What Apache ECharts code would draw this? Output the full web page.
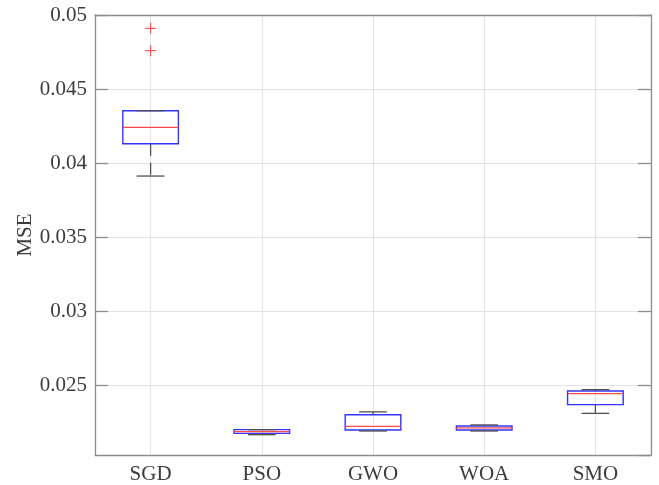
<!DOCTYPE html>
<html>
<head>
<meta charset="utf-8">
<script src="https://cdn.jsdelivr.net/npm/echarts@6/dist/echarts.min.js"></script>
<style>
  html, body { margin: 0; padding: 0; background: #fff; }
  #main { width: 659px; height: 485px; }
</style>
</head>
<body>
<div id="main"></div>
<script>
// box plot values
var categories = ['SGD', 'PSO', 'GWO', 'WOA', 'SMO'];
var lowWhisker  = [0.03913, 0.02167, 0.02192, 0.02192, 0.02311];
var q1          = [0.04131, 0.02176, 0.02199, 0.02199, 0.02370];
var median      = [0.04242, 0.02188, 0.02223, 0.02213, 0.02444];
var q3          = [0.04354, 0.02201, 0.02302, 0.02226, 0.02462];
var highWhisker = [0.04354, 0.02201, 0.02321, 0.02233, 0.02471];
var outliers = [['SGD', 0.04910], ['SGD', 0.04759]];

var yMin = 0.0203, yMax = 0.05;
var axisGray = '#8c8c8c';
var textGray = '#3c3c3c';
var font = 'Liberation Serif';

var boxData = [];
for (var i = 0; i < categories.length; i++) {
    boxData.push([i, lowWhisker[i], q1[i], median[i], q3[i], highWhisker[i]]);
}

function renderBox(params, api) {
    var x = api.value(0);
    var lo = api.coord([x, api.value(1)]);
    var b1 = api.coord([x, api.value(2)]);
    var md = api.coord([x, api.value(3)]);
    var b3 = api.coord([x, api.value(4)]);
    var hi = api.coord([x, api.value(5)]);
    var band = api.size([1, 0])[0];
    var bw = band * 0.5, cw = band * 0.25;
    var cx = lo[0];
    var whisk = {stroke: '#505050', lineWidth: 1.3, lineDash: [12, 7]};
    var cap = {stroke: '#505050', lineWidth: 1.3};
    return {
        type: 'group',
        children: [
            {type: 'rect', shape: {x: cx - bw / 2, y: b3[1], width: bw, height: b1[1] - b3[1]},
                style: {fill: 'none', stroke: '#3333ff', lineWidth: 1.4}},
            {type: 'line', shape: {x1: cx, y1: hi[1], x2: cx, y2: b3[1]}, style: whisk},
            {type: 'line', shape: {x1: cx, y1: b1[1], x2: cx, y2: lo[1]}, style: whisk},
            {type: 'line', shape: {x1: cx - cw / 2, y1: hi[1], x2: cx + cw / 2, y2: hi[1]}, style: cap},
            {type: 'line', shape: {x1: cx - cw / 2, y1: lo[1], x2: cx + cw / 2, y2: lo[1]}, style: cap},
            {type: 'line', shape: {x1: cx - bw / 2, y1: md[1], x2: cx + bw / 2, y2: md[1]},
                style: {stroke: '#ff4a4a', lineWidth: 1.3}}
        ]
    };
}

var option = {
    animation: false,
    backgroundColor: '#fff',
    grid: {left: 95, right: 8, top: 15, bottom: 30},
    xAxis: [
        {
            type: 'category',
            data: categories,
            position: 'bottom',
            axisLine: {lineStyle: {color: axisGray, width: 1.3}},
            axisTick: {inside: true, length: 13, alignWithLabel: true, lineStyle: {color: axisGray, width: 1.3}},
            axisLabel: {margin: 9, fontFamily: font, fontSize: 21, color: textGray},
            splitLine: {show: true, alignWithLabel: true, lineStyle: {color: '#e3e3e3'}}
        },
        {
            type: 'category',
            data: categories,
            position: 'top',
            axisLine: {lineStyle: {color: axisGray, width: 1.3}},
            axisTick: {inside: true, length: 13, alignWithLabel: true, lineStyle: {color: axisGray, width: 1.3}},
            axisLabel: {show: false},
            splitLine: {show: false}
        }
    ],
    yAxis: [
        {
            type: 'value',
            min: yMin,
            max: yMax,
            minInterval: 0.005,
            maxInterval: 0.005,
            name: 'MSE',
            nameLocation: 'middle',
            nameGap: 59,
            nameMoveOverlap: false,
            nameTextStyle: {fontFamily: font, fontSize: 21, color: textGray},
            axisLine: {show: true, lineStyle: {color: axisGray, width: 1.3}},
            axisTick: {show: true, inside: true, length: 13, lineStyle: {color: axisGray, width: 1.3}},
            axisLabel: {
                margin: 8, fontFamily: font, fontSize: 21, color: textGray,
                showMinLabel: false,
                formatter: function (v) {
                    return Math.abs(v / 0.005 - Math.round(v / 0.005)) < 1e-6 ? String(+v.toFixed(3)) : '';
                }
            },
            splitLine: {show: true, lineStyle: {color: '#e3e3e3'}}
        },
        {
            type: 'value',
            min: yMin,
            max: yMax,
            minInterval: 0.005,
            maxInterval: 0.005,
            position: 'right',
            axisLine: {show: true, lineStyle: {color: axisGray, width: 1.3}},
            axisTick: {show: true, inside: true, length: 13, lineStyle: {color: axisGray, width: 1.3}},
            axisLabel: {show: false},
            splitLine: {show: false}
        }
    ],
    series: [
        {
            type: 'custom',
            name: 'box',
            renderItem: renderBox,
            encode: {x: 0, y: [1, 2, 3, 4, 5]},
            data: boxData,
            z: 3
        },
        {
            type: 'scatter',
            name: 'outliers',
            symbol: 'path://M0,5L10,5M5,0L5,10',
            symbolSize: 11,
            itemStyle: {color: 'none', borderColor: '#ff3030', borderWidth: 1.3},
            data: outliers,
            z: 4
        }
    ]
};

var myChart = echarts.init(document.getElementById('main'));
myChart.setOption(option);
</script>
</body>
</html>
